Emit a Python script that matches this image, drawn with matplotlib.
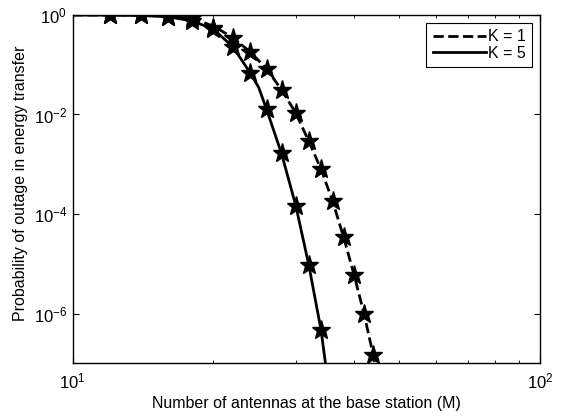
import matplotlib
matplotlib.use("Agg")
import matplotlib.pyplot as plt
from matplotlib.ticker import LogLocator, NullFormatter

plt.rcParams['font.family'] = ['Liberation Sans', 'DejaVu Sans']
plt.rcParams['mathtext.fontset'] = 'custom'
plt.rcParams['mathtext.rm'] = 'Liberation Sans'
plt.rcParams['mathtext.it'] = 'Liberation Sans:italic'
plt.rcParams['mathtext.bf'] = 'Liberation Sans:bold'

# analytical curves
m_line_k1 = [10, 12, 14, 16, 18, 20, 22, 24, 26, 28, 30, 32, 34, 36, 38, 40, 42, 44, 46]
p_line_k1 = [1.0, 0.998, 0.99, 0.95, 0.85, 0.6, 0.35, 0.18, 0.083, 0.031, 0.0108,
             2.9e-3, 7.9e-4, 1.8e-4, 3.4e-5, 6e-6, 1e-6, 1.4e-7, 1.5e-8]
m_line_k5 = [10, 12, 14, 16, 18, 20, 22, 24, 25, 26, 28, 30, 32, 34, 36]
p_line_k5 = [1.0, 0.995, 0.975, 0.92, 0.76, 0.52, 0.23, 0.068, 0.035, 0.0126,
             1.6e-3, 1.5e-4, 9.5e-6, 4.6e-7, 8e-9]

# simulation points
m_sim_k1 = [12, 14, 16, 18, 20, 22, 24, 26, 28, 30, 32, 34, 36, 38, 40, 42, 44]
p_sim_k1 = [1.0, 1.0, 0.93, 0.86, 0.56, 0.34, 0.18, 0.083, 0.0316, 0.0108,
            2.9e-3, 7.9e-4, 1.8e-4, 3.4e-5, 6e-6, 1e-6, 1.47e-7]
m_sim_k5 = [12, 14, 16, 18, 20, 22, 24, 26, 28, 30, 32, 34]
p_sim_k5 = [1.0, 1.0, 0.92, 0.74, 0.52, 0.23, 0.068, 0.013, 1.66e-3, 1.47e-4,
            9.5e-6, 4.6e-7]

fig = plt.figure(figsize=(5.62, 4.16), dpi=100)
ax = fig.add_axes([0.1294, 0.1267, 0.8315, 0.8373])

ax.loglog(m_line_k1, p_line_k1, 'k--', lw=2, label='K = 1')
ax.loglog(m_line_k5, p_line_k5, 'k-', lw=2, label='K = 5')
ax.loglog(m_sim_k1, p_sim_k1, 'k*', ms=14, ls='none')
ax.loglog(m_sim_k5, p_sim_k5, 'k*', ms=14, ls='none')

ax.set_xlim(10, 100)
ax.set_ylim(1e-7, 1)
ax.yaxis.set_major_locator(LogLocator(base=100.0, numticks=10))
ax.yaxis.set_minor_locator(plt.NullLocator())
ax.xaxis.set_minor_locator(LogLocator(base=10.0, subs=range(2, 10), numticks=10))
ax.xaxis.set_minor_formatter(NullFormatter())

ax.tick_params(which='both', direction='in', top=True, right=True, labelsize=12)
ax.tick_params(which='major', length=4)
ax.tick_params(which='minor', length=2.5)
ax.tick_params(axis='x', which='major', pad=6)
ax.tick_params(axis='y', which='major', pad=4)
for s in ax.spines.values():
    s.set_linewidth(1)

ax.set_xlabel('Number of antennas at the base station (M)', fontsize=11.5, labelpad=3)
ax.set_ylabel('Probability of outage in energy transfer', fontsize=11.5)
ax.yaxis.set_label_coords(-0.095, 0.516)

leg = ax.legend(loc='upper right', fancybox=False, edgecolor='k', framealpha=1,
                fontsize=11.5, handlelength=3.3, borderpad=0.4, labelspacing=0.1,
                handletextpad=0.15, borderaxespad=0.5)
leg.get_frame().set_linewidth(0.8)

fig.savefig('out.png', dpi=100)
